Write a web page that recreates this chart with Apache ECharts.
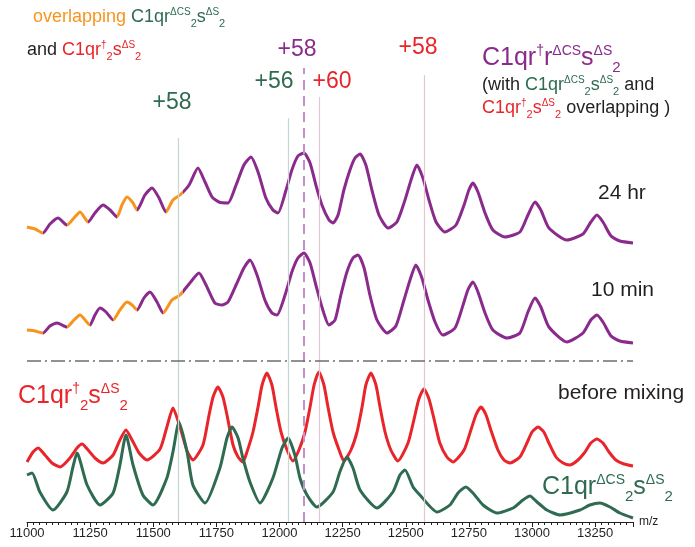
<!DOCTYPE html>
<html>
<head>
<meta charset="utf-8">
<script src="https://cdn.jsdelivr.net/npm/echarts@6.0.0/dist/echarts.min.js"></script>
<style>
  html, body { margin: 0; padding: 0; background: #fff; }
  #chart { width: 695px; height: 547px; }
</style>
</head>
<body>
<div id="chart"></div>
<script>
// ---- Spectra: [m/z, relative intensity above each trace's own baseline] ----
const trace24hr = [
  [11000,18],[11032,16],[11063,12],[11091,21],[11123,27],[11158,20],[11186,27],[11210,33],
  [11242,23],[11269,32],[11301,40],[11329,35],[11356,28],[11376,40],[11396,48],[11420,42],
  [11436,35],[11467,50],[11495,57],[11523,47],[11550,33],[11578,45],[11606,50],[11642,60],
  [11677,77],[11705,63],[11733,48],[11760,43],[11796,42],[11828,60],[11859,80],[11887,88],
  [11915,73],[11946,47],[11974,35],[11994,32],[12026,55],[12049,75],[12073,89],[12097,92],
  [12121,82],[12144,60],[12168,40],[12196,25],[12212,22],[12232,30],[12255,55],[12279,75],
  [12299,87],[12319,91],[12342,80],[12366,55],[12394,30],[12430,17],[12465,23],[12497,45],
  [12521,65],[12544,80],[12568,67],[12592,45],[12620,23],[12655,13],[12699,20],[12731,40],
  [12750,55],[12766,62],[12786,53],[12814,32],[12845,15],[12893,8],[12952,13],[12984,30],
  [13012,43],[13035,35],[13067,17],[13138,5],[13202,11],[13233,23],[13257,30],[13281,23],
  [13313,9],[13348,4],[13400,2]
];
const trace10min = [
  [11000,15],[11032,14],[11063,12],[11091,19],[11119,22],[11158,18],[11186,25],[11210,30],
  [11249,20],[11269,30],[11289,37],[11313,33],[11341,25],[11368,35],[11396,43],[11416,40],
  [11436,35],[11463,47],[11487,53],[11515,43],[11539,32],[11574,45],[11606,50],[11645,62],
  [11681,72],[11709,60],[11744,42],[11772,40],[11796,43],[11828,60],[11859,77],[11883,85],
  [11911,70],[11942,45],[11970,32],[11990,30],[12022,50],[12049,73],[12073,87],[12097,92],
  [12121,82],[12144,60],[12168,38],[12196,20],[12220,25],[12243,50],[12267,73],[12291,87],
  [12311,90],[12335,77],[12358,50],[12386,25],[12426,12],[12461,19],[12493,45],[12517,65],
  [12540,80],[12564,67],[12588,45],[12616,23],[12647,10],[12695,17],[12727,40],[12746,55],
  [12766,63],[12786,53],[12814,32],[12845,15],[12901,7],[12952,12],[12984,33],[13012,47],
  [13035,38],[13067,18],[13138,3],[13202,12],[13233,25],[13257,30],[13281,23],[13313,9],
  [13348,4],[13400,2]
];
const traceR2S2 = [
  [11000,5],[11024,15],[11044,19],[11071,12],[11099,4],[11131,0],[11170,9],[11198,19],
  [11218,23],[11242,17],[11269,9],[11301,4],[11341,12],[11368,27],[11392,37],[11416,27],
  [11444,14],[11475,7],[11527,18],[11554,40],[11578,59],[11606,40],[11634,16],[11657,7],
  [11697,22],[11721,52],[11737,70],[11756,80],[11776,70],[11792,52],[11816,22],[11836,10],
  [11855,5],[11871,15],[11895,35],[11915,60],[11931,82],[11950,94],[11970,82],[11986,60],
  [12006,35],[12030,17],[12053,6],[12077,17],[12101,35],[12121,60],[12137,82],[12156,95],
  [12176,82],[12192,60],[12212,35],[12236,17],[12255,6],[12283,17],[12307,35],[12327,60],
  [12342,82],[12362,94],[12382,82],[12398,60],[12418,35],[12441,17],[12469,6],[12509,24],
  [12533,48],[12552,68],[12572,78],[12592,68],[12612,48],[12635,24],[12663,10],[12687,5],
  [12731,17],[12758,37],[12778,52],[12798,60],[12818,52],[12837,37],[12865,17],[12889,7],
  [12913,4],[12952,10],[12980,24],[13000,35],[13024,40],[13047,35],[13067,24],[13095,10],
  [13123,4],[13150,2],[13182,7],[13210,15],[13233,24],[13257,28],[13281,24],[13305,15],
  [13332,7],[13364,3],[13400,1]
];
const traceRCS2S2 = [
  [11000,43],[11020,45],[11051,26],[11103,8],[11158,26],[11182,51],[11198,65],[11238,33],
  [11289,13],[11341,25],[11368,53],[11392,83],[11420,53],[11459,23],[11499,13],[11554,40],
  [11578,66],[11602,96],[11634,66],[11657,33],[11705,15],[11764,50],[11792,80],[11812,91],
  [11836,80],[11855,60],[11883,36],[11923,15],[11974,40],[12010,70],[12034,80],[12061,63],
  [12081,40],[12109,23],[12148,11],[12212,26],[12239,46],[12267,61],[12291,50],[12319,28],
  [12386,10],[12449,26],[12477,43],[12497,48],[12529,31],[12556,23],[12624,6],[12675,13],
  [12707,25],[12738,31],[12766,25],[12806,13],[12861,5],[12925,10],[12964,18],[12992,22],
  [13020,16],[13059,8],[13111,3],[13190,8],[13229,13],[13269,15],[13309,11],[13348,5],
  [13400,0]
];

// m/z windows where the overlapping species dominate the mixed spectra
const overlap24hr  = [[11000,11063],[11158,11242],[11356,11436],[11550,11618]];
const overlap10min = [[11000,11063],[11158,11249],[11341,11436],[11539,11618]];

// Charge-state reference positions
const chargeMz     = [11600, 12034, 12097, 12156, 12572];
const chargeLabels = ['+58', '+56', '+58', '+60', '+58'];

// X axis
const mzMin = 11000, mzMax = 13400, mzStep = 250;

// ---- Layout & style ----
const FONT = "'Liberation Sans', Arial, Helvetica, sans-serif";
const PURPLE = '#8a2a8c', ORANGE = '#f7941e', RED = '#e8252a', GREEN = '#2e6b50', INK = '#231f20';
const Y_MAX = 500;                       // vertical units spanning the plot height
const OFFSET = { h24: 277, m10: 177, r2: 55, cs2: 4 };
const markerStyle = [
  { top: 384, color: '#c6d7d2', type: 'solid', width: 1.2 },
  { top: 404, color: '#c6d7d2', type: 'solid', width: 1.2 },
  { top: 454, color: '#c48fce', type: [10, 6], width: 2 },
  { top: 425, color: '#e3c7d2', type: 'solid', width: 1.2 },
  { top: 447, color: '#e3c7d2', type: 'solid', width: 1.2 }
];
const SEPARATOR_Y = 161;

function shift(trace, off) { return trace.map(([m, h]) => [m, h + off]); }

function traceSeries(name, trace, off, color) {
  return {
    name, type: 'line', data: shift(trace, off), symbol: 'none', showSymbol: false,
    smooth: 0.2, silent: true, z: 3,
    itemStyle: { color },
    lineStyle: { width: 3 }
  };
}

// Rich-text styles with superscript (U) and subscript (D) variants per colour
function richSet(size, colors) {
  const r = {};
  for (const k in colors) {
    const c = colors[k];
    r[k] = { fontSize: size, fill: c, fontFamily: FONT, lineHeight: Math.round(size * 1.4), verticalAlign: 'middle' };
    r[k + 'U'] = { fontSize: Math.round(size * 0.56), fill: c, fontFamily: FONT, verticalAlign: 'top',
                   padding: [Math.round(size * 0.14), 0, 0, 0] };
    r[k + 'D'] = { fontSize: Math.round(size * 0.6), fill: c, fontFamily: FONT, verticalAlign: 'bottom' };
  }
  return r;
}
const COLORS = { o: ORANGE, g: GREEN, r: RED, p: PURPLE, k: INK };

function richText(x, y, text, size) {
  return {
    type: 'text', x, y, silent: true,
    style: { text, rich: richSet(size, COLORS), align: 'left', verticalAlign: 'middle',
             textAlign: 'left', textVerticalAlign: 'middle', fill: INK, font: size + 'px ' + FONT }
  };
}
function plainText(x, y, text, size, color, align) {
  return {
    type: 'text', x, y, silent: true,
    style: { text, fill: color, font: size + 'px ' + FONT, align: align || 'left', verticalAlign: 'middle',
             textAlign: align || 'left', textVerticalAlign: 'middle' }
  };
}

const labelPos = [[172, 103, GREEN], [274, 82, GREEN], [297, 50, PURPLE], [332, 82, RED], [418, 48, RED]];

const chart = echarts.init(document.getElementById('chart'), null, { renderer: 'canvas' });
chart.setOption({
  animation: false,
  backgroundColor: '#fff',
  grid: { left: 27, right: 62, top: 22, bottom: 25, containLabel: false },
  xAxis: {
    type: 'value', min: mzMin, max: mzMax, interval: mzStep,
    name: 'm/z', nameLocation: 'end', nameGap: 6,
    nameTextStyle: { fontSize: 12, color: INK, fontFamily: FONT },
    axisLine: { lineStyle: { color: INK, width: 1 } },
    axisTick: { length: 5, lineStyle: { color: INK, width: 1 } },
    minorTick: { show: true, splitNumber: 10, length: 3, lineStyle: { color: INK, width: 1 } },
    axisLabel: { fontSize: 13, color: INK, fontFamily: FONT, margin: 5, showMaxLabel: false,
                 formatter: v => String(v) },
    splitLine: { show: false }, minorSplitLine: { show: false }
  },
  yAxis: { type: 'value', min: 0, max: Y_MAX, show: false, splitLine: { show: false } },
  visualMap: [
    { type: 'piecewise', show: false, dimension: 0, seriesIndex: 0,
      pieces: overlap24hr.map(([a, b]) => ({ gte: a, lt: b, color: ORANGE })),
      outOfRange: { color: PURPLE } },
    { type: 'piecewise', show: false, dimension: 0, seriesIndex: 1,
      pieces: overlap10min.map(([a, b]) => ({ gte: a, lt: b, color: ORANGE })),
      outOfRange: { color: PURPLE } }
  ],
  series: [
    traceSeries('24 hr', trace24hr, OFFSET.h24, PURPLE),
    traceSeries('10 min', trace10min, OFFSET.m10, PURPLE),
    traceSeries('C1qr†2sΔS2', traceR2S2, OFFSET.r2, RED),
    traceSeries('C1qrΔCS2sΔS2', traceRCS2S2, OFFSET.cs2, GREEN),
    {
      name: 'guides', type: 'line', data: [], z: 1, silent: true,
      markLine: {
        silent: true, symbol: ['none', 'none'], label: { show: false }, animation: false,
        data: chargeMz.map((m, i) => [
          { coord: [m, 0], lineStyle: { color: markerStyle[i].color, type: markerStyle[i].type, width: markerStyle[i].width } },
          { coord: [m, markerStyle[i].top] }
        ]).concat([[
          { coord: [mzMin, SEPARATOR_Y], lineStyle: { color: '#6d6d6d', type: [14, 4, 2, 4], width: 1.5 } },
          { coord: [mzMax, SEPARATOR_Y] }
        ]])
      }
    }
  ],
  graphic: [
    richText(33, 17, '{o|overlapping }{g|C1qr}{gU|ΔCS}{gD|2}{g|s}{gU|ΔS}{gD|2}', 18),
    richText(27, 50, '{k|and }{r|C1qr}{rU|†}{rD|2}{r|s}{rU|ΔS}{rD|2}', 18),
    richText(482, 58, '{p|C1qr}{pU|†}{p|r}{pU|ΔCS}{p|s}{pU|ΔS}{pD|2}', 25),
    richText(482, 85, '{k|(with }{g|C1qr}{gU|ΔCS}{gD|2}{g|s}{gU|ΔS}{gD|2}{k| and}', 18),
    richText(482, 108, '{r|C1qr}{rU|†}{rD|2}{r|s}{rU|ΔS}{rD|2}{k| overlapping )}', 18),
    richText(18, 396, '{r|C1qr}{rU|†}{rD|2}{r|s}{rU|ΔS}{rD|2}', 25),
    richText(542, 487, '{g|C1qr}{gU|ΔCS}{gD|2}{g|s}{gU|ΔS}{gD|2}', 25),
    plainText(598, 193, '24 hr', 21, INK),
    plainText(591, 290, '10 min', 21, INK),
    plainText(558, 393, 'before mixing', 21, INK)
  ].concat(chargeLabels.map((t, i) => plainText(labelPos[i][0], labelPos[i][1], t, 23, labelPos[i][2], 'center')))
});
</script>
</body>
</html>
